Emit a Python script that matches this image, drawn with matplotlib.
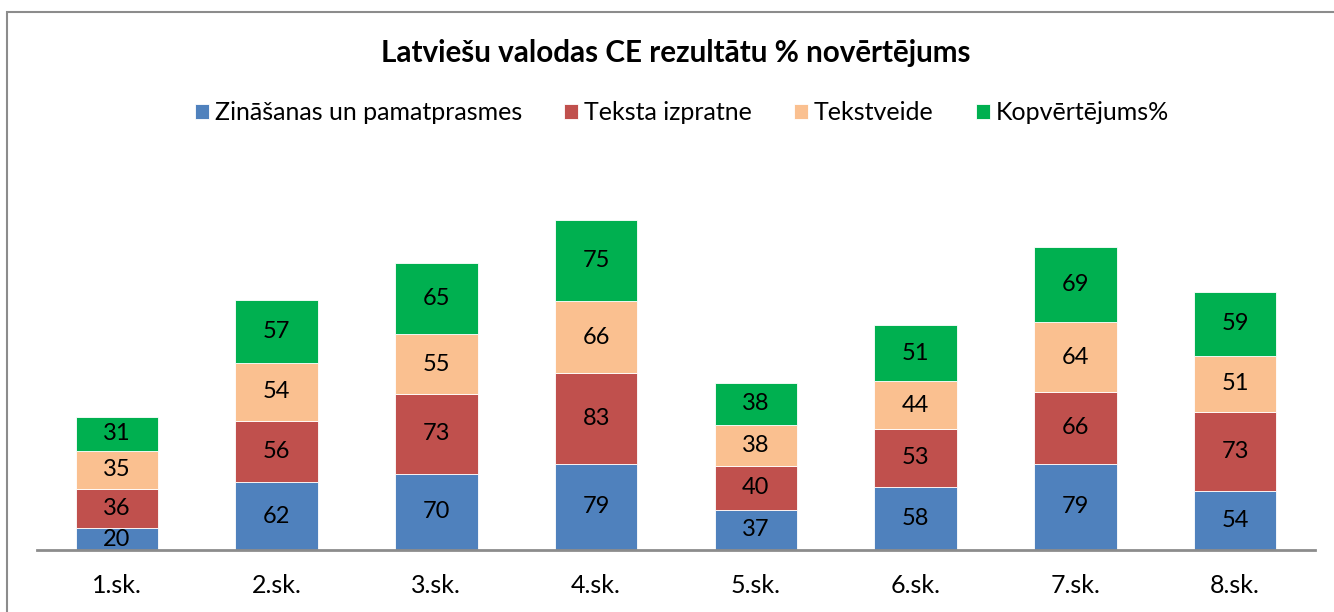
import matplotlib
matplotlib.use("Agg")
import matplotlib.pyplot as plt
from matplotlib.patches import Rectangle
import numpy as np

plt.rcParams['font.family'] = ['Lato', 'DejaVu Sans']

categories = ["1.sk.", "2.sk.", "3.sk.", "4.sk.", "5.sk.", "6.sk.", "7.sk.", "8.sk."]
series_names = ["Zināšanas un pamatprasmes", "Teksta izpratne", "Tekstveide", "Kopvērtējums%"]
zinasanas = [20, 62, 70, 79, 37, 58, 79, 54]
teksta = [36, 56, 73, 83, 40, 53, 66, 73]
tekstveide = [35, 54, 55, 66, 38, 44, 64, 51]
kopvertejums = [31, 57, 65, 75, 38, 51, 69, 59]
colors = ["#4F81BD", "#C0504D", "#FAC090", "#00B050"]
title = "Latviešu valodas CE rezultātu % novērtējums"

W, H = 1334, 612
fig = plt.figure(figsize=(W/100, H/100), dpi=100)

# outer chart border
fig.patches.append(Rectangle((7/W, -0.1), 1.2, (612-12)/H + 0.1, transform=fig.transFigure,
                             fill=False, edgecolor="#8c8c8c", linewidth=1.5))

ax_left, ax_right = 37, 1315
ax_bottom, ax_top = 550, 200
ax = fig.add_axes([ax_left/W, 1-ax_bottom/H, (ax_right-ax_left)/W, (ax_bottom-ax_top)/H])
x = np.arange(len(categories))
bottom = np.zeros(len(categories))
for name, vals, c in zip(series_names, [zinasanas, teksta, tekstveide, kopvertejums], colors):
    vals = np.array(vals, dtype=float)
    bars = ax.bar(x, vals, width=0.515, bottom=bottom, color=c, label=name,
                  edgecolor="white", linewidth=0.6, zorder=2)
    for xi, b, v in zip(x, bottom, vals):
        ax.text(xi, b + v/2, f"{int(v)}", ha="center", va="center", fontsize=17, color="black", zorder=3)
    bottom += vals

ax.set_xlim(-0.5, 7.5)
ax.set_ylim(0, 350/1.09)
ax.set_yticks([])
ax.set_xticks(x)
ax.set_xticklabels(categories, fontsize=18)
ax.tick_params(axis="x", length=0, pad=17)
for s in ["top", "right", "left"]:
    ax.spines[s].set_visible(False)
ax.spines["bottom"].set_color("#8c8c8c")
ax.spines["bottom"].set_linewidth(2)
ax.spines["bottom"].set_zorder(4)
ax.patch.set_alpha(0)

fig.text(676/W, 1-53/H, title, ha="center", va="center", fontsize=21.3, fontweight="bold")

handles, labels = ax.get_legend_handles_labels()
leg = fig.legend(handles, labels, loc="center left", bbox_to_anchor=(195/W, 1-113/H), ncol=4,
                 frameon=False, fontsize=18, handlelength=0.56, handleheight=0.56,
                 handletextpad=0.24, columnspacing=1.68, borderpad=0, borderaxespad=0)

fig.savefig("out.png", dpi=100)
